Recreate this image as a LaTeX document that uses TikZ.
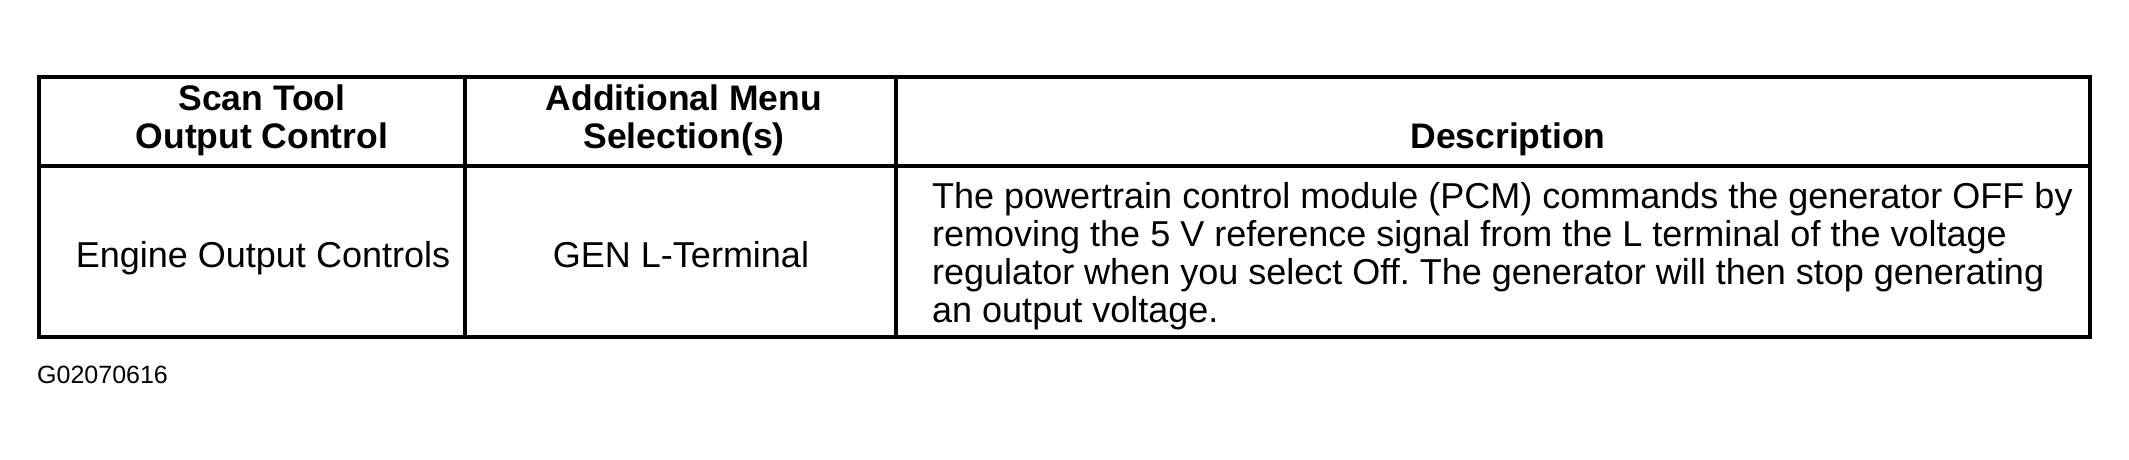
\documentclass[tikz,border=0pt]{standalone}
\usepackage{fontspec}
\setmainfont{Liberation Sans}
\frenchspacing
\begin{document}
\begin{tikzpicture}[x=1pt,y=-1pt,
  tbl/.style={line width=4pt},
  hdr/.style={font=\fontsize{35.5}{38}\selectfont\bfseries, align=center, inner sep=0pt},
  body/.style={font=\fontsize{36}{38}\selectfont, inner sep=0pt},
  desc/.style={font=\fontsize{36}{38}\selectfont, align=left, inner sep=0pt},
  figid/.style={font=\fontsize{25}{28}\selectfont, inner sep=0pt}]
\useasboundingbox (0,0) rectangle (2129,459);
\fill[white] (0,0) rectangle (2129,459);
% table frame
\draw[tbl] (39,77) rectangle (2090,337);
\draw[tbl] (39,166) -- (2090,166);
\draw[tbl] (465,77) -- (465,337);
\draw[tbl] (896,77) -- (896,337);
% header (base anchor = baseline of last line)
\node[hdr, anchor=base] (h1) at (262,148) {Scan Tool\\Output Control};
\node[hdr, anchor=base] (h2) at (684,148) {Additional Menu\\Selection(s)};
\node[hdr, anchor=base] (h3) at (1508,148) {Description};
% body
\node[body, anchor=base] (b1) at (263,267) {Engine Output Controls};
\node[body, anchor=base] (b2) at (681,267) {GEN L-Terminal};
\node[desc, anchor=base west] (b3) at (932,322) {The powertrain control module (PCM) commands the generator OFF by\\
removing the 5 V reference signal from the L terminal of the voltage\\
regulator when you select Off. The generator will then stop generating\\
an output voltage.};
\node[figid, anchor=base west] (id) at (37,383) {G02070616};
\end{tikzpicture}
\end{document}
